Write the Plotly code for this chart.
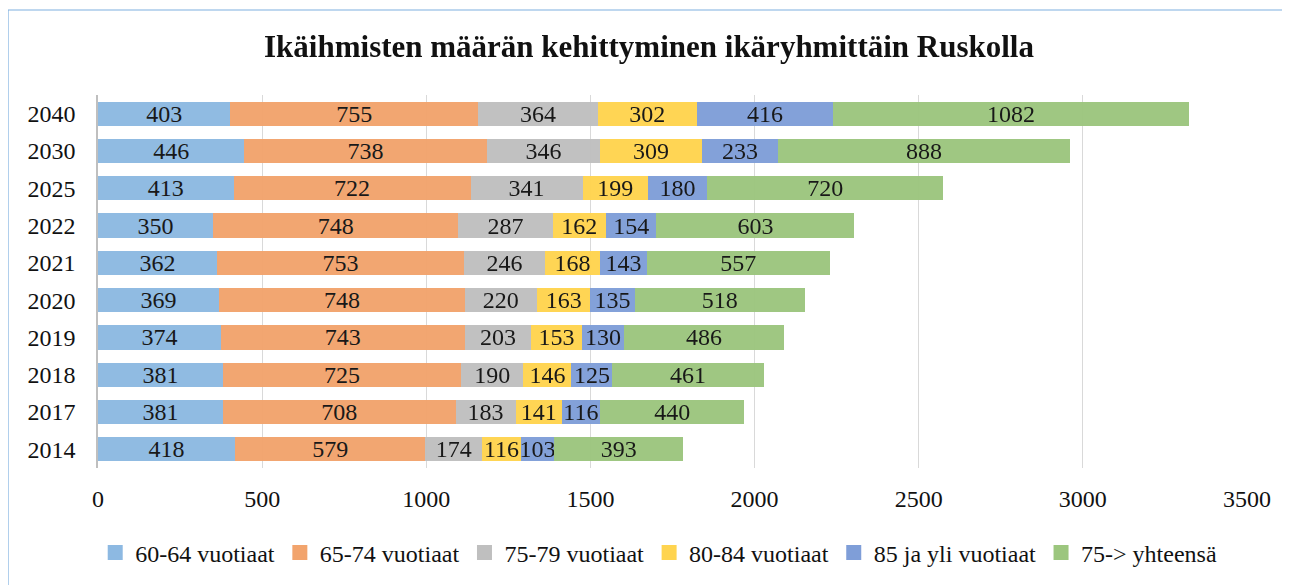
import plotly.graph_objects as go

years = ["2014", "2017", "2018", "2019", "2020", "2021", "2022", "2025", "2030", "2040"]
series_names = ["60-64 vuotiaat", "65-74 vuotiaat", "75-79 vuotiaat",
                "80-84 vuotiaat", "85 ja yli vuotiaat", "75-> yhteensä"]
v60_64 = [418, 381, 381, 374, 369, 362, 350, 413, 446, 403]
v65_74 = [579, 708, 725, 743, 748, 753, 748, 722, 738, 755]
v75_79 = [174, 183, 190, 203, 220, 246, 287, 341, 346, 364]
v80_84 = [116, 141, 146, 153, 163, 168, 162, 199, 309, 302]
v85 = [103, 116, 125, 130, 135, 143, 154, 180, 233, 416]
v75_total = [393, 440, 461, 486, 518, 557, 603, 720, 888, 1082]
colors = ["#8DB9E2", "#F2A46D", "#BFBFBF", "#FFD44F", "#7F9ED8", "#9CC67E"]

FONT = "Liberation Serif, Times New Roman, serif"
W, H = 1282, 577
L, R, T, B = 90, 43, 87, 117
pw, ph = W - L - R, H - T - B

fig = go.Figure()
for name, vals, col in zip(series_names, [v60_64, v65_74, v75_79, v80_84, v85, v75_total], colors):
    fig.add_trace(go.Bar(
        y=years, x=vals, name=name, orientation="h",
        marker=dict(color=col, line=dict(width=0)),
        text=[str(v) for v in vals], textposition="inside",
        insidetextanchor="middle", constraintext="none",
        textfont=dict(family=FONT, size=24, color="#111111"),
        width=0.65, opacity=0.97, showlegend=False, legendgroup=name,
    ))
# legend entries with larger square swatches
for name, col in zip(series_names, colors):
    fig.add_trace(go.Scatter(
        x=[None], y=[None], mode="markers", name=name, legendgroup=name,
        marker=dict(symbol="square", size=15, color=col, line=dict(width=0)),
        showlegend=True, hoverinfo="skip",
    ))

fig.update_layout(
    barmode="stack",
    width=W, height=H,
    paper_bgcolor="white", plot_bgcolor="white",
    margin=dict(l=L, r=R, t=T, b=B, autoexpand=False),
    font=dict(family=FONT, size=24, color="#111111"),
    title=dict(text="<b>Ikäihmisten määrän kehittyminen ikäryhmittäin Ruskolla</b>",
               x=0.5, xanchor="center", y=1 - 38 / H, yanchor="middle",
               font=dict(family=FONT, size=31, color="#111111")),
    legend=dict(orientation="h", x=0.488, xanchor="center", y=(460 - 545) / ph, yanchor="middle",
                font=dict(family=FONT, size=24, color="#111111"), traceorder="normal",
                itemwidth=30, tracegroupgap=0),
    showlegend=True,
    xaxis=dict(range=[0, 3500], dtick=500, showgrid=True, gridcolor="#D9D9D9",
               gridwidth=1, zeroline=False, showline=False, ticks="",
               ticklabelstandoff=14, tickfont=dict(family=FONT, size=24),
               layer="above traces", automargin=False),
    yaxis=dict(showline=True, linecolor="#BFBFBF", linewidth=1.5, ticks="",
               ticklabelstandoff=16, tickfont=dict(family=FONT, size=24),
               type="category", categoryorder="array", categoryarray=years,
               automargin=False),
)

# outer chart border
fig.add_shape(type="rect", xref="paper", yref="paper",
              x0=(0 - L) / pw, x1=(1280 - L) / pw,
              y0=(H - B - 600) / ph, y1=(H - B - 2) / ph,
              line=dict(color="#7EB0E0", width=1.2), fillcolor="rgba(0,0,0,0)", layer="below")

fig.write_html("out.html")
